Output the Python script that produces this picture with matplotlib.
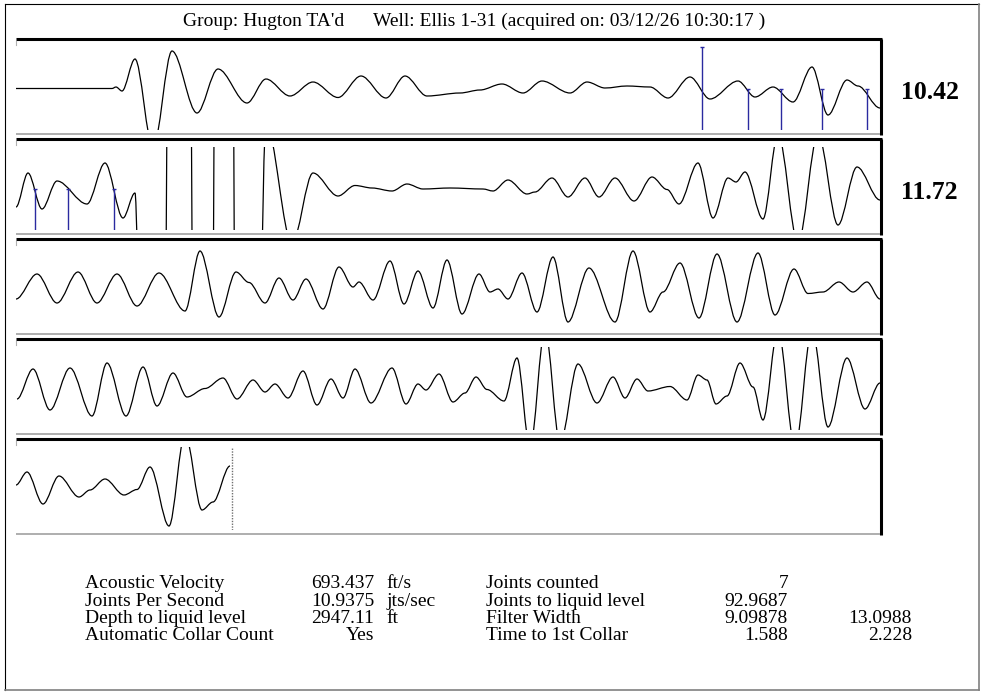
import matplotlib
matplotlib.use('Agg')
import matplotlib.pyplot as plt
from matplotlib.path import Path
from matplotlib.patches import PathPatch

# acoustic trace: turning points per panel
# t = sample position along the record, a = amplitude (clip limit is +-41.5)
p1_t = [16, 112, 116, 122, 135, 153, 172, 197, 218, 247, 266, 290, 313, 338, 361, 386, 405, 427,
        460, 480, 502, 523, 542, 570, 587, 605, 627, 650, 668, 690, 710, 738, 755, 773, 793, 812,
        828, 847, 858, 880]
p1_a = [0, 0, 1.5, -2.5, 29.5, -60, 37.5, -24.5, 19.5, -14.5, 9.5, -7.5, 6.5, -9, 12.5, -9.5, 12.5, -7.5,
        -4.5, -1.5, 4.5, -4.5, 7.5, -4.5, 6.5, 0.5, 2.5, 1.5, -9.5, 11.5, -10.5, 7.5, -8.5, 1.5, -13.5, 21.5,
        -26.5, 8.5, 2.5, -19.5]

p2_t = [16, 28, 42, 57, 87, 105, 123, 135, 153, 180, 203.5, 224, 244, 266, 292, 313, 338, 355, 372, 392,
        407, 423, 450, 483, 493, 508, 527, 535, 552, 568, 585, 599, 615, 634, 652, 667, 679, 698, 713, 728,
        736, 745, 763, 778, 798, 818, 838, 857, 880]
p2_a = [-18.5, 15.5, -20.5, 7.5, -15.5, 25.5, -29.5, -4.5, -1500, 1500, -1500, 1500, -1500, 65, -55, 15.5,
        -7.5, 3, 0.5, -2.5, 4.5, -0.5, 0.5, -0.5, -2.5, 8.5, -5.5, -3.5, 10.5, -8.5, 10.5, -8.5, 10.5, -12.5,
        11.5, -1, -15.5, 25.5, -29.5, 10.5, 6.5, 16.5, -30.5, 55, -55, 55, -36.5, 21.5, -11.5]

p3_t = [16, 37, 57, 78, 97, 117, 137, 159, 185, 200, 219, 236, 249, 265, 279, 293, 306, 323, 339, 353,
        359, 373, 390, 404, 418, 433, 447, 462, 479, 490, 498, 508, 522, 537, 553, 568, 589, 615, 633, 650,
        663, 680, 699, 717, 737, 758, 775, 794, 808, 823, 839, 853, 867, 880]
p3_a = [-10.5, 14.5, -14.5, 16.5, -14.5, 14.5, -17.5, 15.5, -22.5, 37.5, -28.5, 16.5, 6, -14.5, 10.5, -11.5,
        9.5, -20.5, 21.5, 1.5, 6.5, -11.5, 27.5, -15.5, 17.5, -19.5, 28.5, -25.5, 14.5, -3.5, -0.5, -10.5,
        15.5, -23.5, 31.5, -33.5, 20.5, -33.5, 37.5, -23.5, -3.5, 25.5, -29.5, 34.5, -33.5, 35.5, -26.5, 19.5,
        -5, -3.5, 6.5, -3.5, 6.5, -10.5]

p4_t = [17, 33, 50, 70, 92, 107, 126, 143, 157, 173, 187, 205, 223, 237, 253, 265, 275, 288, 303, 317,
        331, 343, 355, 371, 392, 406, 418, 426, 439, 453, 465, 476, 487, 504, 517, 530, 545, 560, 578, 597,
        613, 625, 637, 648, 670, 687, 698, 707, 716, 727, 740, 753, 763, 778, 795, 812, 828, 847, 865, 880]
p4_a = [-10.5, 19.5, -21.5, 20.5, -27.5, 25.5, -27.5, 21.5, -17.5, 15.5, -8.5, 0, 10.5, -10.5, 8.5, -3.5,
        4.5, -9.5, 17.5, -16.5, 9.5, -9.5, 19.5, -14.5, 20.5, -15.5, 4.5, -1.5, 14.5, -13.5, -4.5, 11.5, -1,
        -12.5, 30.5, -60, 60, -55, 24.5, -14.5, 11.5, -9.5, 9.5, -2.5, 2, -11.5, 13.5, 8.5, -15.5, -7.5, 25.5,
        1.5, -31.5, 60, -60, 60, -38.5, 30.5, -20.5, 5.5]

p5_t = [16, 27, 43, 59, 79, 90, 105, 124, 137, 150, 169, 185, 202, 213, 230]
p5_a = [3.5, 16.5, -15.5, 12.5, -8.5, -1.5, 9.5, -6.5, -1, 21.5, -37.5, 55, -21.5, -13.5, 22.5]

# collar picks (first one in panel 1 is the long marker)
collars_p1 = [702, 748, 781, 822, 867]
collars_p2 = [35, 68, 114]
liquid_level_t = 232

panel_scores = ["10.42", "11.72"]

title_group = "Group: Hugton TA'd"
title_well = "Well: Ellis 1-31 (acquired on: 03/12/26 10:30:17 )"

labels_left = ["Acoustic Velocity", "Joints Per Second", "Depth to liquid level", "Automatic Collar Count"]
values_left = ["693.437", "10.9375", "2947.11", "Yes"]
units_left = ["ft/s", "jts/sec", "ft", ""]
labels_right = ["Joints counted", "Joints to liquid level", "Filter Width", "Time to 1st Collar"]
values_right = ["7", "92.9687", "9.09878", "1.588"]
values_extra = ["", "", "13.0988", "2.228"]

traces = [(p1_t, p1_a), (p2_t, p2_a), (p3_t, p3_a), (p4_t, p4_a), (p5_t, p5_a)]

plt.rcParams['font.family'] = ['Liberation Serif', 'DejaVu Serif']

W, H = 984, 695
fig = plt.figure(figsize=(W / 100, H / 100), dpi=100)

# background axes in pixel units for frames and text
bg = fig.add_axes([0, 0, 1, 1])
bg.set_xlim(0, W)
bg.set_ylim(H, 0)
bg.axis('off')

# outer frame
bg.plot([5, 979], [4, 4], color='black', lw=0.8)
bg.plot([5, 5], [4, 690], color='black', lw=0.8)
bg.plot([979, 979], [4, 690], color='#808080', lw=1.2)
bg.plot([5, 979], [690, 690], color='#808080', lw=1.2)

bg.text(183, 26, title_group, fontsize=14, va='baseline', ha='left')
bg.text(373, 26, title_well, fontsize=14, va='baseline', ha='left')


def trace_path(t, a):
    verts = [(t[0], a[0])]
    codes = [Path.MOVETO]
    for i in range(1, len(t)):
        dx = t[i] - t[i - 1]
        verts += [(t[i - 1] + dx / 3, a[i - 1]), (t[i] - dx / 3, a[i]), (t[i], a[i])]
        codes += [Path.CURVE4] * 3
    return Path(verts, codes)


blue = '#2a2aa0'
for i, (t, a) in enumerate(traces):
    top = 38.5 + 100 * i
    bot = 133.5 + 100 * i
    # panel frame: dark top / right, light bottom
    bg.plot([16, 882], [top, top], color='black', lw=2.2, solid_capstyle='butt')
    bg.plot([881, 881], [top, bot + 1], color='black', lw=2.2, solid_capstyle='butt')
    bg.plot([16, 880], [bot, bot], color='#a8a8a8', lw=1.3, solid_capstyle='butt')
    bg.plot([16, 16], [top + 2, top + 6], color='#b0b0b0', lw=0.8)

    ax = fig.add_axes([16 / W, 1 - (130 + 100 * i) / H, 864 / W, 83 / H])
    ax.set_xlim(16, 880)
    ax.set_ylim(-41.5, 41.5)
    ax.axis('off')
    ax.add_patch(PathPatch(trace_path(t, a), fill=False, edgecolor='black', lw=0.9))
    ax.set_xlim(16, 880)
    ax.set_ylim(-41.5, 41.5)

    if i == 0:
        ax.vlines(collars_p1[0], -41.5, 41.5, color=blue, lw=1)
        ax.plot([collars_p1[0]], [41.5], marker='_', ms=3, color=blue, clip_on=False)
        ax.vlines(collars_p1[1:], -41.5, 0, color=blue, lw=1)
        ax.plot(collars_p1[1:], [0] * len(collars_p1[1:]), ls='none', marker='_', ms=3, color=blue)
    if i == 1:
        ax.vlines(collars_p2, -41.5, 0, color=blue, lw=1)
        ax.plot(collars_p2, [0] * len(collars_p2), ls='none', marker='_', ms=3, color=blue)
    if i == 4:
        ax.axvline(liquid_level_t, color='#707070', lw=1, ls=(0, (1, 1)))

    if i < len(panel_scores):
        bg.text(901, 99 + 100 * i, panel_scores[i], fontsize=18.5, fontweight='bold',
                va='baseline', ha='left')

# summary table
rows_y = [588, 605.5, 623, 640.5]
for k, y in enumerate(rows_y):
    bg.text(85, y, labels_left[k], fontsize=14, va='baseline', ha='left')
    bg.text(374, y, values_left[k], fontsize=14, va='baseline', ha='right')
    bg.text(386, y, units_left[k], fontsize=14, va='baseline', ha='left')
    bg.text(486, y, labels_right[k], fontsize=14, va='baseline', ha='left')
    bg.text(788, y, values_right[k], fontsize=14, va='baseline', ha='right')
    bg.text(912, y, values_extra[k], fontsize=14, va='baseline', ha='right')

fig.savefig('out.png', dpi=100)
